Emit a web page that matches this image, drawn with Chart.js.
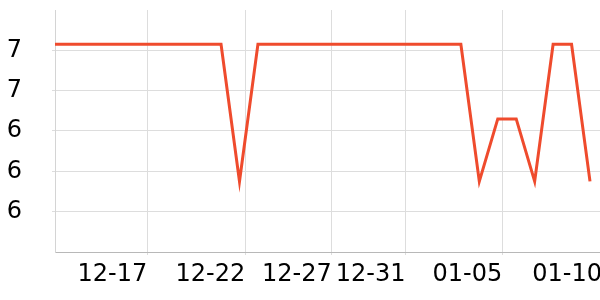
<!DOCTYPE html>
<html>
<head>
<meta charset="utf-8">
<script src="https://cdn.jsdelivr.net/npm/chart.js@4.4.1/dist/chart.umd.min.js"></script>
<style>
  html, body { margin: 0; padding: 0; overflow: hidden; background: #fff; }
  #wrap { width: 602px; height: 300px; }
</style>
</head>
<body>
<div id="wrap"><canvas id="myChart"></canvas></div>
<script>
// one point per day, 12-12 .. 01-10
const dates = ['12-12','12-13','12-14','12-15','12-16','12-17','12-18','12-19','12-20','12-21',
               '12-22','12-23','12-24','12-25','12-26','12-27','12-28','12-29','12-30','12-31',
               '01-01','01-02','01-03','01-04','01-05','01-06','01-07','01-08','01-09','01-10'];
const values = [6.83,6.83,6.83,6.83,6.83,6.83,6.83,6.83,6.83,6.83,
                6.15,6.83,6.83,6.83,6.83,6.83,6.83,6.83,6.83,6.83,
                6.83,6.83,6.83,6.15,6.46,6.46,6.15,6.83,6.83,6.15];

// x tick positions (days after 12-12) and their labels
const tickDays = [5, 10.31, 15, 19, 24.24, 29.65];
const tickLabels = ['12-17','12-22','12-27','12-31','01-05','01-10'];

// y ticks
const yTicks = [6.0, 6.2, 6.4, 6.6, 6.8];
const yMin = 5.8;
const yMax = 7.0;

document.addEventListener('DOMContentLoaded', () => {
  const ctx = document.getElementById('myChart');
  const font = { family: 'DejaVu Sans', size: 24 };

  // keep the axes from pushing the plot area inwards
  const noPad = (s) => { s.paddingTop = 0; s.paddingBottom = 0; s.paddingLeft = 0; s.paddingRight = 0; };

  new Chart(ctx, {
    type: 'line',
    data: {
      datasets: [{
        data: dates.map((d, i) => ({ x: i, y: values[i] })),
        borderColor: '#ef4b2d',
        borderWidth: 3,
        pointRadius: 0,
        tension: 0,
        fill: false
      }]
    },
    options: {
      responsive: true,
      maintainAspectRatio: false,
      animation: false,
      layout: { padding: { top: 10, left: 0, right: 0, bottom: 0 } },
      plugins: { legend: { display: false }, tooltip: { enabled: false } },
      scales: {
        x: {
          type: 'linear',
          min: 0,
          max: tickDays[tickDays.length - 1],
          afterBuildTicks: (s) => { s.ticks = tickDays.map(v => ({ value: v })); },
          afterFit: (s) => { s.height = 48; noPad(s); },
          grid: { color: '#dddddd', tickLength: 3 },
          border: { color: '#b8b8b8' },
          ticks: {
            font: font,
            color: '#000',
            align: 'end',
            padding: 5,
            maxRotation: 0,
            autoSkip: false,
            callback: (v, i) => tickLabels[i]
          }
        },
        y: {
          min: yMin,
          max: yMax,
          afterBuildTicks: (s) => { s.ticks = yTicks.map(v => ({ value: v })); },
          afterFit: (s) => { s.width = 55; noPad(s); },
          grid: { color: '#dddddd', tickLength: 3 },
          border: { color: '#d4d4d4' },
          ticks: {
            font: font,
            color: '#000',
            padding: 30,
            callback: (v) => Number(v).toFixed(0)
          }
        }
      }
    }
  });
});
</script>
</body>
</html>
